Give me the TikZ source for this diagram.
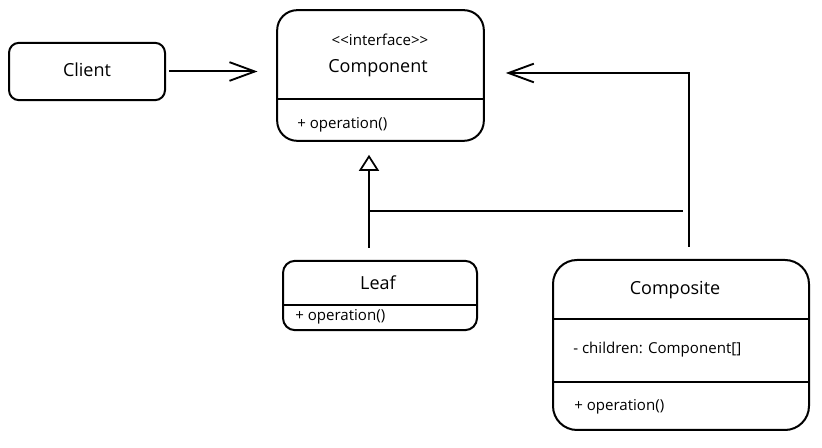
\documentclass[tikz,border=0pt]{standalone}
\usepackage{fontspec}
\setmainfont{Open Sans}
\usetikzlibrary{arrows.meta}
\tikzset{
  box/.style={draw, line width=1.5pt, rectangle, inner sep=0pt},
  divider/.style={line width=1.5pt},
  conn/.style={line width=1.5pt},
  assoc/.style={conn, -{Straight Barb[length=19pt, width=14pt, line width=1.4pt]}},
  inherit/.style={conn, -{Triangle[open, length=12pt, width=15pt, line width=1.3pt]}},
  big/.style={font=\fontsize{13.5}{15}\selectfont, inner sep=0pt},
  small/.style={font=\fontsize{11.3}{13}\selectfont, inner sep=0pt},
}
\begin{document}
\begin{tikzpicture}[x=0.75pt, y=-0.75pt]
\useasboundingbox (0,0) rectangle (822,448);
% boxes
\node[box, rounded corners=7.5pt, minimum width=117pt, minimum height=43pt] (client) at (87,71.5) {};
\node[box, rounded corners=15pt, minimum width=155pt, minimum height=98pt] (comp) at (380.5,75.5) {};
\node[box, rounded corners=9pt, minimum width=145.5pt, minimum height=52pt] (leaf) at (380,295.5) {};
\node[box, rounded corners=18pt, minimum width=192pt, minimum height=127.5pt] (composite) at (681,345) {};
% dividers
\draw[divider] (comp.west |- 0,99) -- (comp.east |- 0,99);
\draw[divider] (leaf.west |- 0,305) -- (leaf.east |- 0,305);
\draw[divider] (composite.west |- 0,319) -- (composite.east |- 0,319);
\draw[divider] (composite.west |- 0,382) -- (composite.east |- 0,382);
% texts
\node[big] (clientlbl) at (87,70) {Client};
\node[small] (stereo) at (380,40) {<{}<interface>{}>};
\node[big] (complbl) at (378,68) {Component};
\node[small, anchor=west] (compop) at (297,125) {+ operation()};
\node[big] (leaflbl) at (378,283) {Leaf};
\node[small, anchor=west] (leafop) at (295,317) {+ operation()};
\node[big] (compositelbl) at (675,290) {Composite};
\node[small, anchor=west] (children) at (573,350) {- children: Component[]};
\node[small, anchor=west] (compositeop) at (574,407) {+ operation()};
% connectors
\draw[assoc, shorten <=2.25pt, shorten >=14pt] (client.east) -- (comp.west |- client.east);
\coordinate (cstart) at (689,247);
\coordinate (corner) at (689,73);
\draw[assoc, shorten >=15.75pt] (cstart) -- (corner) -- (comp.east |- corner);
\coordinate (lstart) at (369,248);
\draw[inherit, shorten >=9.75pt] (lstart) -- (lstart |- comp.south);
\coordinate (jl) at (370,211);
\coordinate (jr) at (683,211);
\draw[conn] (jl) -- (jr);
\end{tikzpicture}
\end{document}
